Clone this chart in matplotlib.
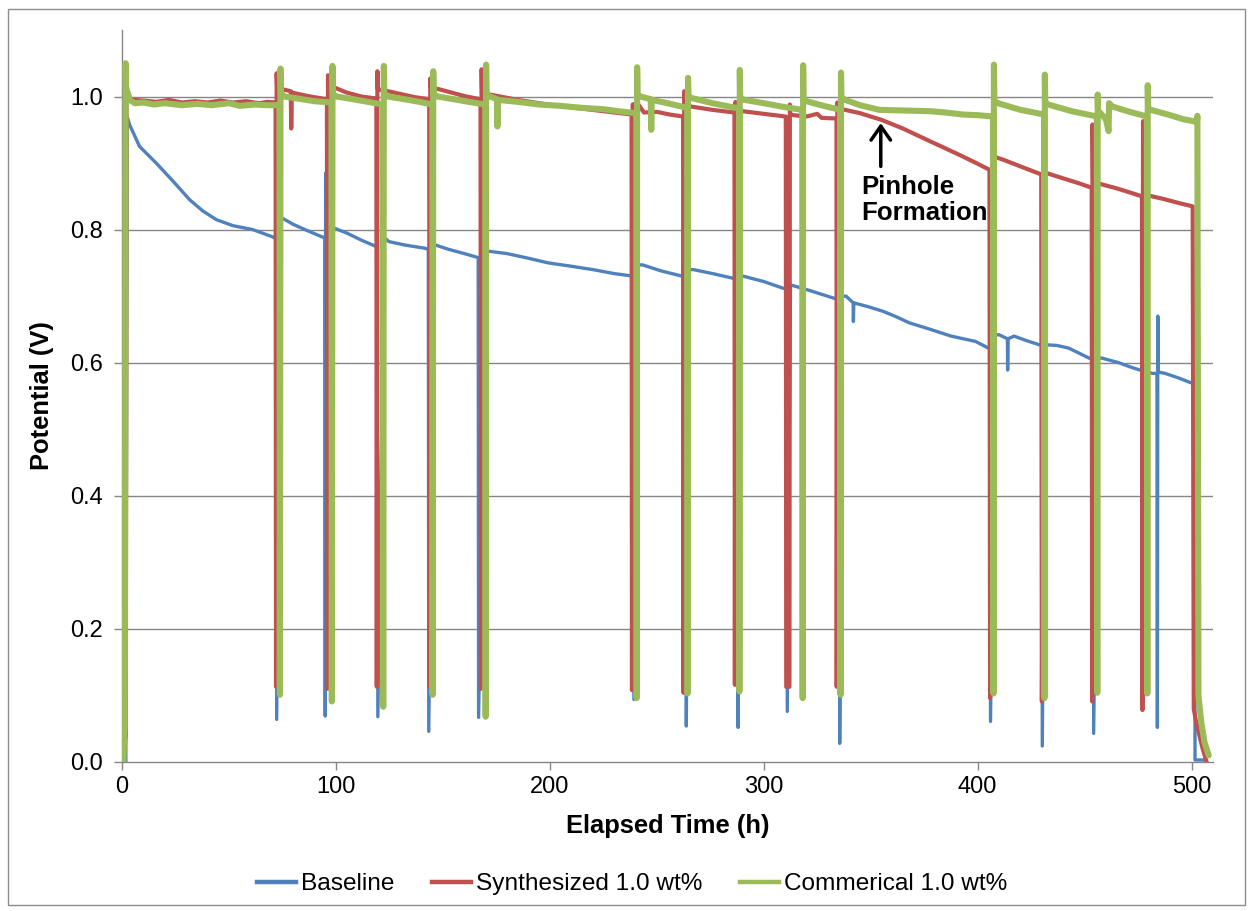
import matplotlib
matplotlib.use("Agg")
import matplotlib.pyplot as plt
from matplotlib.lines import Line2D
from matplotlib.patches import Rectangle

# ---- data -------------------------------------------------------------
baseline_t = [1.8, 2.4, 3.5, 8.2, 16.0, 23.8, 31.6, 37.8, 44.1, 51.8, 61.2, 70.5,
              72.1, 72.3, 74.5, 80.0, 87.0, 93.6, 94.8, 95.0, 95.2, 98.6, 105.0, 112.0, 118.6,
              119.4, 119.6, 122.6, 124.8, 132.0, 141.7, 143.2, 143.4, 145.6, 152.0, 160.0, 166.5,
              166.7, 170.3, 180.0, 190.0, 199.3, 210.0, 220.0, 230.0, 239.1, 239.3, 241.0, 243.4,
              252.0, 262.0, 263.6, 263.8, 264.8, 267.0, 276.0, 285.6, 287.8, 288.0, 289.0, 290.5,
              300.0, 309.0, 310.8, 311.0, 312.5, 322.0, 332.7, 335.3, 335.5, 336.4, 338.5, 341.8,
              341.9, 342.1, 349.0, 356.0, 362.0, 368.0, 378.0, 387.6, 399.0, 405.0, 405.8, 406.0,
              407.8, 410.0, 413.9, 414.0, 414.2, 417.0, 423.0, 428.8, 430.0, 430.2, 431.6, 437.0,
              442.5, 447.0, 452.0, 454.0, 454.2, 456.3, 458.0, 466.0, 471.0, 475.8, 481.7, 483.8,
              484.0, 484.2, 484.4, 487.6, 494.0, 500.4, 501.4, 501.6, 506.5]
baseline_v = [0.000, 0.970, 0.958, 0.925, 0.900, 0.873, 0.845, 0.828, 0.815, 0.806, 0.800, 0.789,
              0.786, 0.064, 0.818, 0.808, 0.798, 0.789, 0.788, 0.069, 0.885, 0.803, 0.795, 0.784, 0.775,
              0.774, 0.068, 0.788, 0.782, 0.777, 0.772, 0.770, 0.046, 0.778, 0.771, 0.764, 0.758,
              0.067, 0.768, 0.764, 0.757, 0.750, 0.745, 0.740, 0.734, 0.730, 0.094, 0.747, 0.747,
              0.738, 0.730, 0.729, 0.054, 0.740, 0.740, 0.734, 0.727, 0.726, 0.052, 0.730, 0.730,
              0.722, 0.712, 0.711, 0.076, 0.717, 0.708, 0.697, 0.695, 0.028, 0.700, 0.700, 0.690,
              0.662, 0.690, 0.684, 0.677, 0.669, 0.660, 0.650, 0.640, 0.632, 0.622, 0.621, 0.061,
              0.642, 0.642, 0.636, 0.589, 0.636, 0.640, 0.633, 0.627, 0.626, 0.024, 0.627, 0.626,
              0.622, 0.615, 0.607, 0.606, 0.043, 0.607, 0.607, 0.600, 0.594, 0.589, 0.584, 0.584,
              0.052, 0.670, 0.586, 0.584, 0.577, 0.569, 0.568, 0.003, 0.003]

synth_t = [1.2, 1.8, 2.1, 3.0, 5.0, 10.0, 16.0, 22.0, 28.0, 34.0, 40.0, 46.0, 52.0, 58.0, 64.0, 68.0,
           71.8, 72.0, 72.3, 72.5, 75.0, 78.9, 79.1, 79.4, 85.0, 90.0, 95.8, 96.0, 96.3, 96.5, 99.0,
           105.0, 112.0, 118.9, 119.1, 119.4, 119.6, 123.0, 130.0, 137.0, 143.6, 143.8, 144.1, 144.3,
           147.0, 154.0, 161.0, 167.6, 167.8, 168.1, 168.3, 172.0, 185.0, 199.0, 212.0, 225.0, 238.2,
           238.4, 238.7, 241.0, 244.0, 250.0, 256.0, 262.3, 262.5, 262.8, 263.0, 266.0, 276.0, 286.3,
           286.5, 286.8, 287.0, 290.0, 300.0, 310.3, 310.5, 312.0, 312.2, 312.4, 314.0, 320.0, 325.0,
           327.0, 334.0, 334.1, 334.4, 334.6, 338.0, 345.0, 352.0, 355.0, 365.0, 377.6, 385.0, 393.0,
           400.0, 405.5, 405.8, 407.3, 412.0, 420.0, 429.7, 430.0, 431.2, 440.0, 447.0, 453.3, 453.5,
           453.7, 453.9, 458.0, 465.0, 472.0, 476.8, 477.0, 477.3, 477.5, 487.0, 494.0, 500.5, 501.0,
           502.0, 503.5, 505.0, 507.0]
synth_v = [0.030, 0.040, 1.020, 1.000, 0.995, 0.994, 0.992, 0.995, 0.991, 0.993, 0.991, 0.994, 0.991, 0.993, 0.990, 0.992,
           0.991, 0.113, 1.035, 1.013, 1.011, 1.008, 0.952, 1.006, 1.002, 0.999, 0.996, 0.110, 1.032, 1.016, 1.014,
           1.006, 1.000, 0.997, 0.113, 1.038, 1.011, 1.009, 1.004, 0.999, 0.996, 0.113, 1.027, 1.014,
           1.012, 1.006, 1.000, 0.996, 0.110, 1.041, 1.005, 1.003, 0.995, 0.988, 0.983, 0.978, 0.973,
           0.108, 0.988, 0.990, 0.976, 0.977, 0.973, 0.970, 0.104, 1.008, 0.987, 0.985, 0.980, 0.976,
           0.116, 0.992, 0.980, 0.978, 0.974, 0.970, 0.113, 0.113, 0.988, 0.973, 0.972, 0.970, 0.974,
           0.968, 0.967, 0.113, 0.991, 0.982, 0.980, 0.975, 0.968, 0.965, 0.952, 0.933, 0.922, 0.910,
           0.899, 0.890, 0.096, 0.910, 0.905, 0.895, 0.883, 0.091, 0.886, 0.877, 0.870, 0.863, 0.091,
           0.958, 0.872, 0.868, 0.862, 0.855, 0.850, 0.078, 0.963, 0.853, 0.846, 0.840, 0.835, 0.080,
           0.062, 0.042, 0.022, 0.000]

comm_t = [0.6, 1.3, 1.7, 1.9, 2.8, 3.6, 6.0, 10.0, 15.0, 20.0, 28.0, 35.0, 42.0, 50.0, 55.0, 62.0, 68.0,
          73.6, 73.8, 74.1, 74.3, 76.0, 82.0, 90.0, 97.9, 98.1, 98.4, 98.6, 100.3, 108.0, 115.0, 121.9,
          122.1, 122.4, 122.6, 124.3, 132.0, 139.0, 145.1, 145.2, 145.5, 145.7, 147.5, 155.0, 162.0,
          169.8, 170.0, 170.2, 170.4, 172.0, 175.3, 175.5, 175.7, 185.0, 195.0, 205.0, 215.0, 225.0,
          232.0, 240.4, 240.6, 240.8, 241.0, 242.5, 247.2, 247.4, 247.6, 255.0, 264.2, 264.4, 264.6,
          264.8, 266.0, 276.0, 288.5, 288.6, 288.8, 289.0, 291.0, 300.0, 310.0, 318.0, 318.2, 318.4,
          318.6, 320.0, 328.0, 335.7, 335.9, 336.1, 336.3, 338.0, 345.0, 354.0, 365.0, 377.6, 385.0,
          393.0, 400.0, 407.2, 407.4, 407.6, 407.8, 409.5, 420.0, 431.0, 431.2, 431.4, 431.6, 433.0,
          444.0, 455.7, 455.9, 456.1, 456.3, 457.5, 460.0, 461.2, 461.4, 463.0, 470.0, 479.1, 479.3,
          479.5, 479.7, 481.0, 490.0, 496.0, 502.5, 502.7, 503.2, 504.5, 506.0, 508.0]
comm_v = [0.000, 0.055, 1.050, 1.010, 1.005, 0.995, 0.990, 0.991, 0.988, 0.990, 0.987, 0.989, 0.987, 0.990, 0.986, 0.988, 0.987,
          0.987, 0.101, 1.042, 1.005, 1.000, 0.997, 0.993, 0.991, 0.091, 1.046, 1.004, 1.000, 0.996, 0.992, 0.988,
          0.083, 1.046, 1.004, 1.000, 0.996, 0.992, 0.988, 0.101, 1.038, 1.004, 1.000, 0.996, 0.992,
          0.988, 0.068, 1.048, 1.003, 1.000, 0.996, 0.955, 0.995, 0.992, 0.988, 0.986, 0.983, 0.981,
          0.978, 0.975, 0.096, 1.044, 1.003, 1.000, 0.996, 0.950, 0.995, 0.990, 0.983, 0.103, 1.028,
          1.000, 0.998, 0.990, 0.982, 0.106, 1.040, 0.998, 0.995, 0.990, 0.984, 0.980, 0.096, 1.047,
          0.996, 0.993, 0.986, 0.980, 0.101, 1.036, 0.998, 0.995, 0.987, 0.980, 0.979, 0.978, 0.976,
          0.973, 0.972, 0.970, 0.103, 1.048, 0.993, 0.990, 0.980, 0.973, 0.096, 1.033, 0.990, 0.988,
          0.978, 0.970, 0.104, 1.003, 0.977, 0.975, 0.965, 0.948, 0.990, 0.985, 0.978, 0.970, 0.103,
          1.017, 0.982, 0.980, 0.972, 0.966, 0.962, 0.971, 0.100, 0.060, 0.030, 0.010]

series_labels = ["Baseline", "Synthesized 1.0 wt%", "Commerical 1.0 wt%"]
series_colors = ["#4F81BD", "#C0504D", "#9BBB59"]
x_ticks = [0, 100, 200, 300, 400, 500]
y_ticks = [0.0, 0.2, 0.4, 0.6, 0.8, 1.0]

# ---- figure -----------------------------------------------------------
plt.rcParams["font.family"] = ["Liberation Sans", "DejaVu Sans"]
W, H = 1253, 911
fig = plt.figure(figsize=(W / 100, H / 100), dpi=100)
fig.patch.set_facecolor("white")

left, right, bottom, top = 122, 1213, 762, 30
ax = fig.add_axes([left / W, 1 - bottom / H, (right - left) / W, (bottom - top) / H])

grid_c = "#868686"
ax.plot(baseline_t, baseline_v, color=series_colors[0], lw=2.4,
        solid_joinstyle="round", solid_capstyle="round", zorder=3)
ax.plot(synth_t, synth_v, color=series_colors[1], lw=3.0,
        solid_joinstyle="round", solid_capstyle="round", zorder=4)
ax.plot(comm_t, comm_v, color=series_colors[2], lw=4.4,
        solid_joinstyle="round", solid_capstyle="round", zorder=5)

ax.set_xlim(0, 510)
ax.set_ylim(0, 1.1)
ax.set_xticks(x_ticks)
ax.set_yticks(y_ticks)
ax.set_yticklabels([f"{v:.1f}" for v in y_ticks])
for y in y_ticks[1:]:
    ax.axhline(y, color=grid_c, lw=1.0, zorder=1)

for s in ["top", "right"]:
    ax.spines[s].set_visible(False)
for s in ["left", "bottom"]:
    ax.spines[s].set_color(grid_c)
    ax.spines[s].set_linewidth(1.0)
ax.tick_params(axis="both", colors=grid_c, labelcolor="black", labelsize=17,
               length=6, width=1.0, direction="out")
ax.tick_params(axis="y", pad=8)
ax.tick_params(axis="x", pad=4)

ax.set_xlabel("Elapsed Time (h)", fontsize=18.4, fontweight="bold")
ax.set_ylabel("Potential (V)", fontsize=18.4, fontweight="bold")
ax.xaxis.set_label_coords(0.5, -0.071)
ax.yaxis.set_label_coords(-0.062, 0.5)

# pinhole annotation
ax.annotate("", xy=(354.7, 0.960), xytext=(354.7, 0.895),
            arrowprops=dict(arrowstyle="->,head_length=0.5,head_width=0.35",
                            color="black", lw=2.5, mutation_scale=20,
                            shrinkA=0, shrinkB=0), zorder=6)
ax.text(345.4, 0.882, "Pinhole\nFormation", fontsize=18.6, fontweight="bold",
        ha="left", va="top", linespacing=1.08, zorder=6)

# legend below the axes
handles = [Line2D([], [], color=c, lw=3.2) for c in series_colors]
fig.legend(handles, series_labels, loc="center", bbox_to_anchor=(632 / W, 1 - 884 / H),
           ncol=3, frameon=False, fontsize=17.6, handlelength=1.6, handletextpad=0.2,
           columnspacing=1.55)

# chart outline
fig.add_artist(Rectangle((8 / W, 1 - 905 / H), (1245 - 8) / W, (905 - 9) / H,
                         transform=fig.transFigure, fill=False, edgecolor="#8c8c8c", lw=1.0))

fig.savefig("out.png", dpi=100)
